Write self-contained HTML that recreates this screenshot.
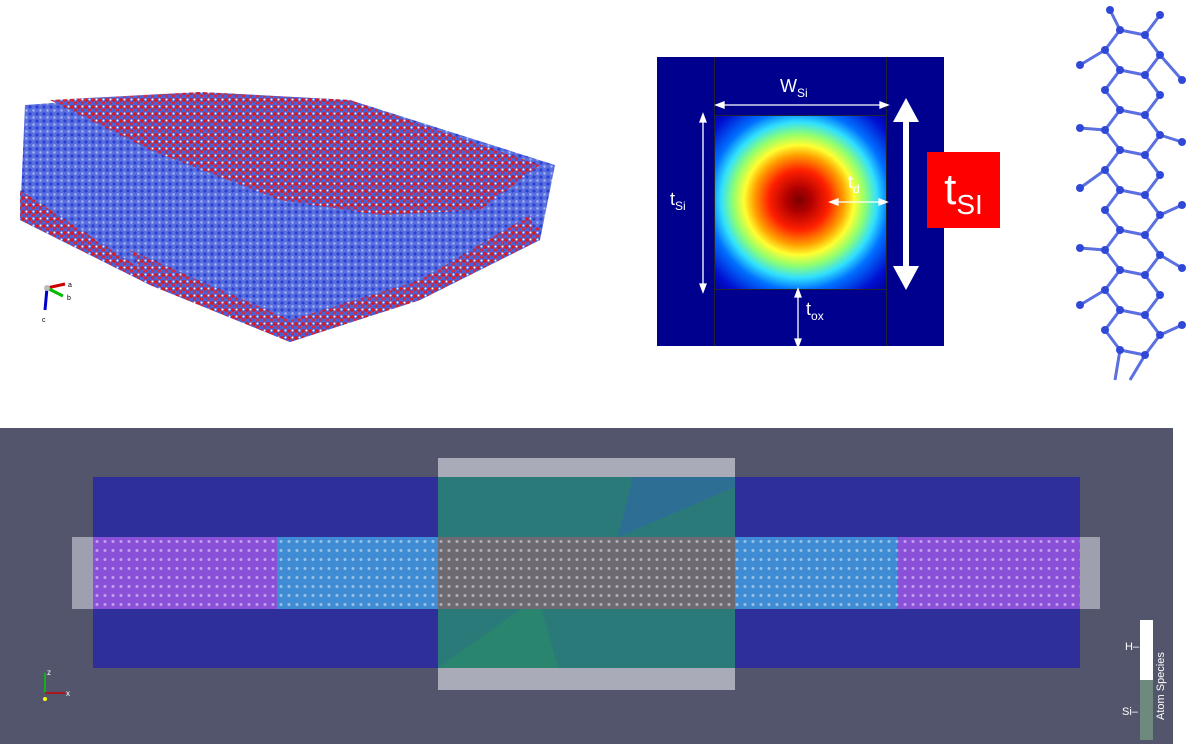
<!DOCTYPE html>
<html><head><meta charset="utf-8"><style>
html,body{margin:0;padding:0;background:#fff;width:1194px;height:756px;overflow:hidden;font-family:"Liberation Sans",sans-serif}
.a{position:absolute}
</style></head><body>
<!-- crystal slab -->
<svg class="a" style="left:0;top:0" width="600" height="360">
<defs>
<pattern id="cr" width="7" height="7" patternUnits="userSpaceOnUse">
<rect width="7" height="7" fill="#4a60d8"/>
<circle cx="2" cy="2" r="1.9" fill="#e01818"/>
<circle cx="5.5" cy="5" r="1.6" fill="#d82030"/>
<circle cx="5.5" cy="1.5" r="1" fill="#ffffff"/>
</pattern>
<pattern id="cb" width="7" height="7" patternUnits="userSpaceOnUse">
<rect width="7" height="7" fill="#5a70e0"/>
<circle cx="2" cy="2" r="1.6" fill="#2a40d0"/>
<circle cx="5.5" cy="5.5" r="1.2" fill="#a8b6f0"/>
</pattern>
</defs>
<polygon points="25,105 200,92 350,100 555,165 540,240 420,300 290,342 150,285 20,220" fill="url(#cb)"/>
<polygon points="50,100 200,92 350,100 540,165 480,210 380,215 280,200 150,150" fill="url(#cr)" opacity="0.95"/>
<polygon points="20,190 150,275 290,335 420,292 540,225 540,240 420,300 290,342 150,285 20,220" fill="url(#cr)" opacity="0.95"/>
<polygon points="130,250 290,320 420,280 530,215 535,235 420,300 290,342 150,285" fill="url(#cr)" opacity="0.9"/>
<line x1="47" y1="288" x2="65" y2="284" stroke="#c00" stroke-width="3"/>
<line x1="47" y1="288" x2="63" y2="296" stroke="#0b0" stroke-width="3"/>
<line x1="47" y1="288" x2="45" y2="310" stroke="#00c" stroke-width="3"/>
<circle cx="47" cy="288" r="3" fill="#bbb"/>
<text x="68" y="287" font-size="7">a</text><text x="67" y="300" font-size="7">b</text><text x="42" y="322" font-size="7">c</text>
</svg>
<!-- heat plot -->
<div class="a" style="left:657px;top:57px;width:287px;height:289px;background:#00008f;overflow:hidden">
<div class="a" style="left:58px;top:58px;width:172px;height:174px;background:radial-gradient(circle at 84px 85px,#7a0000 0,#b00000 12px,#ff2000 30px,#ffa000 45px,#ffff30 55px,#90ff70 66px,#30e0ff 78px,#0070ff 90px,#0010d0 110px,#00009a 125px)"></div>
<div class="a" style="left:57px;top:0;width:1px;height:289px;background:#223"></div>
<div class="a" style="left:229px;top:0;width:1px;height:289px;background:#223"></div>
<div class="a" style="left:57px;top:58px;width:173px;height:1px;background:#223"></div>
<div class="a" style="left:57px;top:232px;width:173px;height:1px;background:#223"></div>
</div>
<svg class="a" style="left:640px;top:40px" width="300" height="320">
<g stroke="#fff" stroke-width="1.3" fill="#fff">
<line x1="80" y1="65" x2="244" y2="65"/><polygon points="76,65 84,62 84,68"/><polygon points="248,65 240,62 240,68"/>
<line x1="63" y1="78" x2="63" y2="248"/><polygon points="63,74 60,82 66,82"/><polygon points="63,252 60,244 66,244"/>
<line x1="193" y1="162" x2="244" y2="162"/><polygon points="190,162 198,159 198,165"/><polygon points="247,162 239,159 239,165"/>
<line x1="158" y1="252" x2="158" y2="304"/><polygon points="158,249 155,257 161,257"/><polygon points="158,307 155,299 161,299"/>
</g>
<text x="140" y="52" fill="#fff" font-size="18">W<tspan font-size="12" dy="5">Si</tspan></text>
<text x="30" y="165" fill="#fff" font-size="18">t<tspan font-size="12" dy="5">Si</tspan></text>
<text x="208" y="148" fill="#fff" font-size="18">t<tspan font-size="12" dy="5">d</tspan></text>
<text x="166" y="275" fill="#fff" font-size="18">t<tspan font-size="12" dy="5">ox</tspan></text>
<line x1="266" y1="75" x2="266" y2="235" stroke="#fff" stroke-width="6"/>
<polygon points="266,58 253,82 279,82" fill="#fff"/><polygon points="266,250 253,226 279,226" fill="#fff"/>
</svg>
<div class="a" style="left:927px;top:152px;width:73px;height:76px;background:#f00;color:#fff;font-size:44px;line-height:76px;text-align:center">t<span style="font-size:28px;vertical-align:-10px">SI</span></div>
<!-- atom chain -->
<svg class="a" style="left:1060px;top:0" width="130" height="395">
<g stroke="#5a70e0" stroke-width="3" fill="#3048d8">
<polyline points="50,10 60,30 45,50 60,70 45,90 60,110 45,130 60,150 45,170 60,190 45,210 60,230 45,250 60,270 45,290 60,310 45,330 60,350 55,380" fill="none"/>
<polyline points="100,15 85,35 100,55 85,75 100,95 85,115 100,135 85,155 100,175 85,195 100,215 85,235 100,255 85,275 100,295 85,315 100,335 85,355 70,380" fill="none"/>
<line x1="60" y1="30" x2="85" y2="35"/><line x1="60" y1="70" x2="85" y2="75"/><line x1="60" y1="110" x2="85" y2="115"/><line x1="60" y1="150" x2="85" y2="155"/><line x1="60" y1="190" x2="85" y2="195"/><line x1="60" y1="230" x2="85" y2="235"/><line x1="60" y1="270" x2="85" y2="275"/><line x1="60" y1="310" x2="85" y2="315"/><line x1="60" y1="350" x2="85" y2="355"/>
<line x1="45" y1="50" x2="20" y2="65"/><line x1="45" y1="130" x2="20" y2="128"/><line x1="45" y1="170" x2="20" y2="188"/><line x1="45" y1="250" x2="20" y2="248"/><line x1="45" y1="290" x2="20" y2="305"/>
<line x1="100" y1="55" x2="122" y2="80"/><line x1="100" y1="135" x2="122" y2="142"/><line x1="100" y1="215" x2="122" y2="205"/><line x1="100" y1="255" x2="122" y2="268"/><line x1="100" y1="335" x2="122" y2="325"/>
<g stroke="none">
<circle cx="50" cy="10" r="4"/><circle cx="60" cy="30" r="4"/><circle cx="45" cy="50" r="4"/><circle cx="60" cy="70" r="4"/><circle cx="45" cy="90" r="4"/><circle cx="60" cy="110" r="4"/><circle cx="45" cy="130" r="4"/><circle cx="60" cy="150" r="4"/><circle cx="45" cy="170" r="4"/><circle cx="60" cy="190" r="4"/><circle cx="45" cy="210" r="4"/><circle cx="60" cy="230" r="4"/><circle cx="45" cy="250" r="4"/><circle cx="60" cy="270" r="4"/><circle cx="45" cy="290" r="4"/><circle cx="60" cy="310" r="4"/><circle cx="45" cy="330" r="4"/><circle cx="60" cy="350" r="4"/>
<circle cx="100" cy="15" r="4"/><circle cx="85" cy="35" r="4"/><circle cx="100" cy="55" r="4"/><circle cx="85" cy="75" r="4"/><circle cx="100" cy="95" r="4"/><circle cx="85" cy="115" r="4"/><circle cx="100" cy="135" r="4"/><circle cx="85" cy="155" r="4"/><circle cx="100" cy="175" r="4"/><circle cx="85" cy="195" r="4"/><circle cx="100" cy="215" r="4"/><circle cx="85" cy="235" r="4"/><circle cx="100" cy="255" r="4"/><circle cx="85" cy="275" r="4"/><circle cx="100" cy="295" r="4"/><circle cx="85" cy="315" r="4"/><circle cx="100" cy="335" r="4"/><circle cx="85" cy="355" r="4"/>
<circle cx="20" cy="65" r="4"/><circle cx="20" cy="128" r="4"/><circle cx="20" cy="188" r="4"/><circle cx="20" cy="248" r="4"/><circle cx="20" cy="305" r="4"/>
<circle cx="122" cy="80" r="4"/><circle cx="122" cy="142" r="4"/><circle cx="122" cy="205" r="4"/><circle cx="122" cy="268" r="4"/><circle cx="122" cy="325" r="4"/>
</g></g>
</svg>
<!-- bottom panel -->
<div class="a" style="left:0;top:428px;width:1173px;height:316px;background:#52556b"></div>
<div class="a" style="left:93px;top:477px;width:987px;height:191px;background:#2e2f9a"></div>
<div class="a" style="left:438px;top:458px;width:297px;height:232px;background:#a9abb8"></div>
<div class="a" style="left:438px;top:477px;width:297px;height:191px;background:#2b7a7a"></div>
<svg class="a" style="left:438px;top:477px" width="297" height="191">
<polygon points="195,0 297,0 297,10 180,60" fill="#2f6aa0" opacity="0.7"/>
<polygon points="0,191 100,120 120,191" fill="#2a8a6a" opacity="0.7"/>
</svg>
<div class="a" style="left:72px;top:537px;width:1028px;height:72px;background:#9ea0b0"></div>
<div class="a" style="left:93px;top:537px;width:184px;height:72px;background:#8a50d8"></div>
<div class="a" style="left:277px;top:537px;width:161px;height:72px;background:#3f8cd4"></div>
<div class="a" style="left:438px;top:537px;width:297px;height:72px;background:#6e6a72"></div>
<div class="a" style="left:735px;top:537px;width:162px;height:72px;background:#3f8cd4"></div>
<div class="a" style="left:897px;top:537px;width:183px;height:72px;background:#8a50d8"></div>
<div class="a" style="left:93px;top:537px;width:987px;height:72px;background-image:radial-gradient(circle,rgba(255,255,255,0.45) 1.3px,transparent 1.8px);background-size:8px 9px"></div>
<svg class="a" style="left:35px;top:665px" width="50" height="40">
<line x1="10" y1="28" x2="10" y2="8" stroke="#0c0" stroke-width="1.5"/><line x1="10" y1="28" x2="30" y2="28" stroke="#c00" stroke-width="1.5"/>
<circle cx="10" cy="34" r="2" fill="#ff0"/>
<text x="12" y="10" font-size="8" fill="#fff">z</text><text x="31" y="31" font-size="8" fill="#fff">x</text>
</svg>
<div class="a" style="left:1140px;top:620px;width:13px;height:60px;background:#fff"></div>
<div class="a" style="left:1140px;top:680px;width:13px;height:60px;background:#6e8a7e"></div>
<div class="a" style="left:1125px;top:641px;color:#fff;font-size:11px">H–</div>
<div class="a" style="left:1122px;top:706px;color:#fff;font-size:11px">Si–</div>
<div class="a" style="left:1155px;top:720px;color:#fff;font-size:11px;transform:rotate(-90deg);transform-origin:0 0;white-space:nowrap">Atom Species</div>
</body></html>
